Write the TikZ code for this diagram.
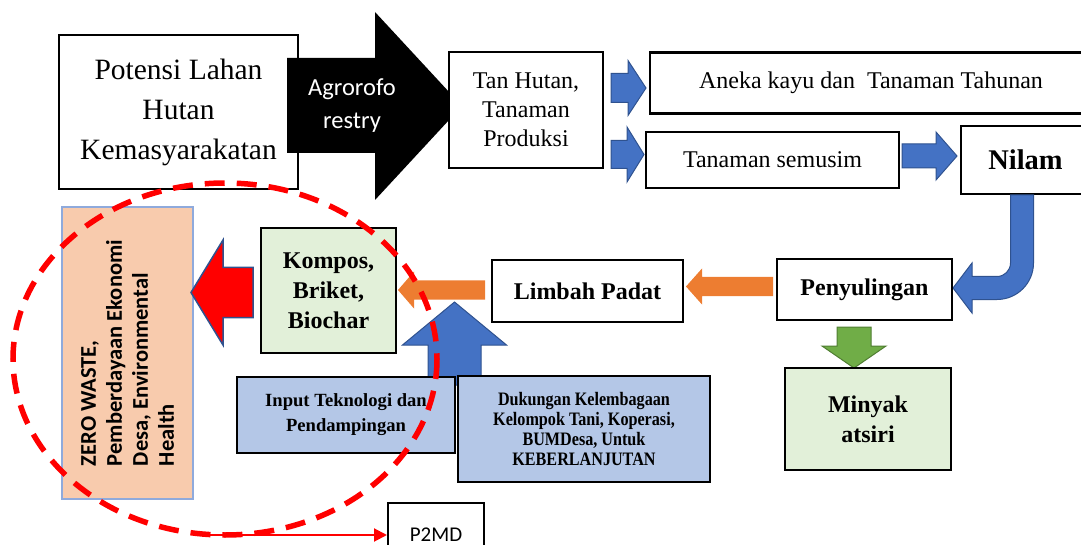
\documentclass[tikz,border=0pt]{standalone}
\usepackage{fontspec}
\setmainfont{Liberation Serif}
\newfontfamily\calfont{Carlito}
\newfontfamily\condfont[FakeStretch=0.85]{Liberation Serif}
\usetikzlibrary{arrows.meta,calc}
\definecolor{ablue}{HTML}{4472C4}
\definecolor{ablueline}{HTML}{2F528F}
\definecolor{aorange}{HTML}{ED7D31}
\definecolor{agreen}{HTML}{70AD47}
\definecolor{agreenline}{HTML}{507E32}
\definecolor{lgreen}{HTML}{E2F0D9}
\definecolor{lblue}{HTML}{B4C7E7}
\definecolor{peach}{HTML}{F8CBAD}
\definecolor{peachline}{HTML}{8FAADC}
\newcommand\fsz[2]{\fontsize{#1}{#2}\selectfont}
% horizontal block arrow: style, x shaft start, x head base, x tip, y centre, shaft half, head half
\newcommand\hblock[7]{\filldraw[#1] (#2,#5-#6) -- (#3,#5-#6) -- (#3,#5-#7) -- (#4,#5) -- (#3,#5+#7) -- (#3,#5+#6) -- (#2,#5+#6) -- cycle;}
% vertical block arrow: style, x centre, y shaft start, y head base, y tip, shaft half, head half
\newcommand\vblock[7]{\filldraw[#1] (#2-#6,#3) -- (#2-#6,#4) -- (#2-#7,#4) -- (#2,#5) -- (#2+#7,#4) -- (#2+#6,#4) -- (#2+#6,#3) -- cycle;}
\begin{document}
\begin{tikzpicture}[x=1pt,y=-1pt,
  box/.style={draw=black, line width=2.4pt, fill=white, align=center, inner sep=0pt},
  barrow/.style={fill=ablue, draw=ablueline, line width=1pt},
  oarrow/.style={fill=aorange, draw=none},
  garrow/.style={fill=agreen, draw=agreenline, line width=1pt},
  rarrow/.style={fill=red, draw=ablueline, line width=1.5pt},
  serif24/.style={font=\fsz{24}{29}},
  bold24/.style={font=\bfseries\fsz{24}{30}}]
\useasboundingbox (0,0) rectangle (1081,545);
\clip (0,0) rectangle (1081,545);

% top row
\node[box, minimum width=239pt, minimum height=154pt, font=\fsz{29.5}{40}] (pot) at (178.5,112) {Potensi Lahan\\Hutan\\Kemasyarakatan};
\fill[black] (287,58) -- (375,58) -- (375,12) -- (462,106) -- (375,200) -- (375,153) -- (287,153) -- cycle;
\node[text=white, align=center, font=\calfont\fsz{24.5}{33}] (agro) at (352,106) {Agrorofo\\restry};
\node[box, serif24, minimum width=154pt, minimum height=116pt] (tan) at (526,110) {Tan Hutan,\\Tanaman\\Produksi};
\node[box, serif24, minimum width=442pt, minimum height=61pt] (aneka) at (871,83) {Aneka kayu dan~ Tanaman Tahunan};
\node[box, serif24, minimum width=253pt, minimum height=56pt] (semusim) at (772.5,160) {Tanaman semusim};
\node[box, font=\bfseries\fsz{28.5}{34}, minimum width=129pt, minimum height=68pt] (nilam) at (1025.5,160) {Nilam};

\hblock{barrow}{611}{628}{646}{88}{14.5}{27.5}
\hblock{barrow}{611}{627}{644}{154.5}{14}{27.5}
\hblock{barrow}{902}{936}{957}{156}{12}{24}

% curved arrow Nilam -> Penyulingan
\filldraw[barrow] (1010.5,195) -- (1033.5,195) -- (1033.5,263) arc[start angle=0, end angle=90, radius=36.5]
  -- (972,299.5) -- (972,313) -- (953,288) -- (972,263) -- (972,276.5) -- (997,276.5)
  arc[start angle=90, end angle=0, radius=13.5] -- cycle;

% middle row
\node[box, bold24, minimum width=175pt, minimum height=61pt] (peny) at (864.5,289.5) {Penyulingan};
\node[box, bold24, minimum width=191pt, minimum height=62pt] (limbah) at (587.5,291) {Limbah Padat};
\node[box, bold24, fill=lgreen, minimum width=135pt, minimum height=125pt] (kompos) at (328.5,290.5) {Kompos,\\Briket,\\Biochar};
\node[rotate=90, draw=peachline, line width=1.5pt, fill=peach, minimum width=292pt, minimum height=131pt,
      align=left, inner sep=0pt, font=\calfont\bfseries\fsz{22.5}{26}] (zero) at (127.5,353)
      {ZERO WASTE,\\Pemberdayaan Ekonomi\\Desa, Environmental\\Health};

\hblock{oarrow}{773}{702}{686}{286.5}{9.5}{18}
\hblock{oarrow}{485}{414}{398}{290}{9.5}{18.5}
\hblock{rarrow}{253}{223}{191}{292.5}{25}{52.5}
\vblock{barrow}{454.5}{385}{345}{302}{26.5}{52}
\vblock{garrow}{854}{327}{346}{368}{17}{32}

% bottom row
\node[box, font=\bfseries\fsz{18.6}{25}, fill=lblue, minimum width=218pt, minimum height=76pt] (input) at (346,415) {Input Teknologi dan\\Pendampingan};
\node[box, font=\condfont\bfseries\fsz{19}{19.7}, fill=lblue, minimum width=252pt, minimum height=106pt] (dukung) at (584,429) {Dukungan Kelembagaan\\Kelompok Tani, Koperasi,\\BUMDesa, Untuk\\KEBERLANJUTAN};
\node[box, bold24, fill=lgreen, minimum width=166pt, minimum height=102pt] (minyak) at (868,419) {Minyak\\atsiri};
\node[box, line width=2pt, font=\calfont\fsz{21}{25}, minimum width=96pt, minimum height=64pt] (p2md) at (436,535) {P2MD};

% dashed ellipse and link to P2MD
\draw[red, line width=5.5pt, dash pattern=on 20pt off 12pt] (225,359) ellipse [x radius=212, y radius=176];
\coordinate (rs) at (208,535);
\draw[red, line width=2pt, -{Triangle[length=13pt,width=13pt]}] (rs) -- (p2md.west);
\end{tikzpicture}
\end{document}
